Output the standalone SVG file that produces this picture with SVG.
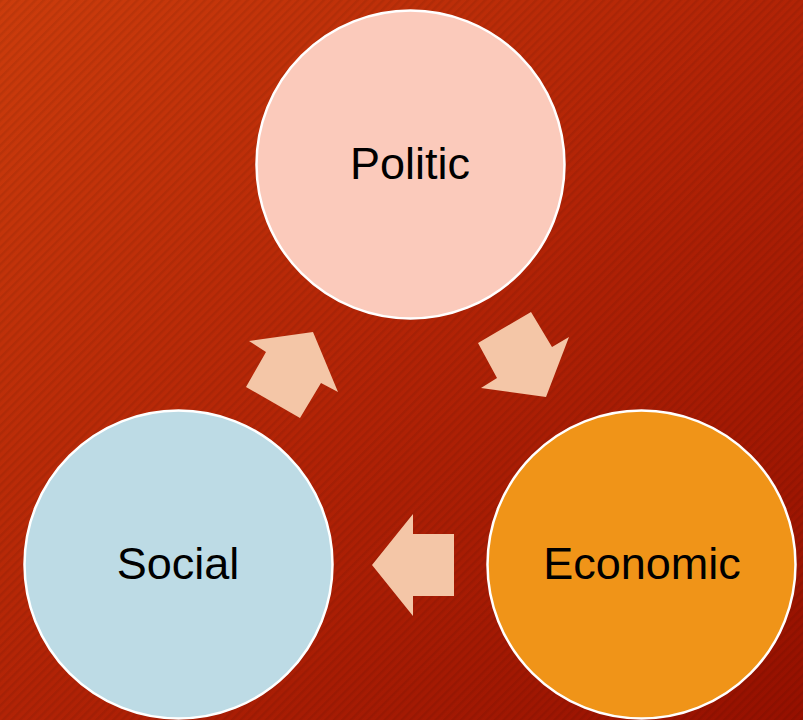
<svg xmlns="http://www.w3.org/2000/svg" width="803" height="720" viewBox="0 0 803 720">
<defs>
<linearGradient id="bg" x1="0" y1="0" x2="1" y2="1">
<stop offset="0" stop-color="#cc3c0c"/>
<stop offset="0.5" stop-color="#b22306"/>
<stop offset="1" stop-color="#961000"/>
</linearGradient>
<pattern id="hatch" width="6" height="6" patternUnits="userSpaceOnUse" patternTransform="rotate(-45)">
<rect x="0" y="0" width="6" height="2.5" fill="#000" fill-opacity="0.07"/>
</pattern>
<style>
.node circle{stroke:#ffffff;stroke-width:2.5}
.node text{font-family:"Liberation Sans",Arial,sans-serif;font-size:45px;fill:#000;text-anchor:middle}
.arrow{fill:#f4c6a7}
</style>
</defs>
<rect width="803" height="720" fill="url(#bg)"/>
<rect width="803" height="720" fill="url(#hatch)"/>
<g id="connectors">
<polygon class="arrow" points="300,418 246,387 266,352 249,341 313,332 338,392 321,383"/>
<polygon class="arrow" points="478,343 531,312 552,347 569,337 546,397 481,388 497,378"/>
<polygon class="arrow" points="454,534 413,534 413,514 372,565 413,616 413,596 454,596"/>
</g>
<g id="politic" class="node">
<circle cx="410.5" cy="164.5" r="154" fill="#fbcabb"/>
<text x="410" y="178.5">Politic</text>
</g>
<g id="social" class="node">
<circle cx="178.5" cy="564.5" r="154" fill="#bddbe5"/>
<text x="178" y="579">Social</text>
</g>
<g id="economic" class="node">
<circle cx="641.5" cy="564.5" r="154" fill="#f09418"/>
<text x="642" y="579">Economic</text>
</g>
</svg>
